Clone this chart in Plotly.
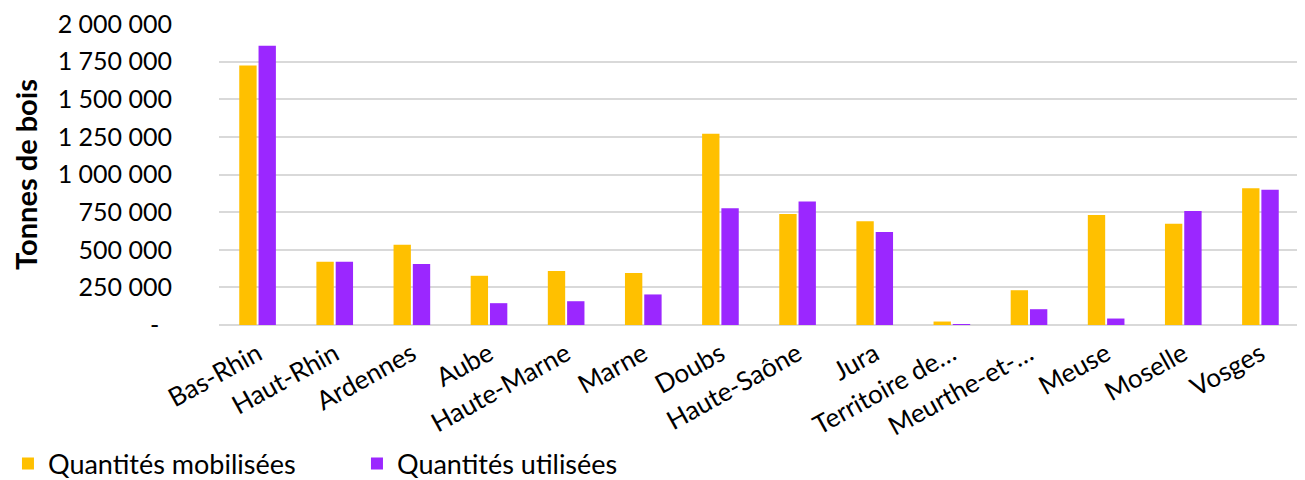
import plotly.graph_objects as go

categories = ["Bas-Rhin", "Haut-Rhin", "Ardennes", "Aube", "Haute-Marne", "Marne", "Doubs",
              "Haute-Saône", "Jura", "Territoire de…", "Meurthe-et-…", "Meuse", "Moselle", "Vosges"]
mobilisees = [1725000, 420000, 533000, 327000, 358000, 345000, 1271000,
              738000, 689000, 23000, 231000, 731000, 673000, 909000]
utilisees = [1856000, 421000, 405000, 145000, 158000, 203000, 776000,
             820000, 618000, 3000, 105000, 43000, 758000, 898000]
tick_vals = [0, 250000, 500000, 750000, 1000000, 1250000, 1500000, 1750000, 2000000]
tick_text = ["-\u00a0\u00a0", "250 000", "500 000", "750 000", "1 000 000", "1 250 000",
             "1 500 000", "1 750 000", "2 000 000"]

FONT = "Lato, 'Open Sans', sans-serif"

fig = go.Figure()
fig.add_trace(go.Bar(x=categories, y=mobilisees, name="Quantités mobilisées",
                     marker=dict(color="#FFC000", line=dict(width=0))))
fig.add_trace(go.Bar(x=categories, y=utilisees, name="Quantités utilisées",
                     marker=dict(color="#9B27FF", line=dict(width=0))))

fig.update_layout(
    width=1297, height=472,
    margin=dict(l=211, r=6, t=16, b=155, autoexpand=False),
    paper_bgcolor="white", plot_bgcolor="white",
    font=dict(family=FONT, size=25, color="#000000"),
    barmode="group", bargap=0.5, bargroupgap=0.1,
    showlegend=True,
    legend=dict(orientation="h", x=-0.1954, xanchor="left", y=-0.462, yanchor="middle",
                font=dict(size=27), itemwidth=30, entrywidthmode="pixels", entrywidth=304,
                traceorder="normal", bgcolor="rgba(0,0,0,0)"),
    xaxis=dict(tickangle=-29, showgrid=False, showline=False, ticks="",
               tickfont=dict(size=26), automargin=False, ticklabelstandoff=8),
    yaxis=dict(range=[0, 2000000], tickvals=tick_vals, ticktext=tick_text,
               showgrid=True, gridcolor="#D9D9D9", gridwidth=1.5,
               zeroline=True, zerolinecolor="#D9D9D9", zerolinewidth=1.5,
               ticks="", ticklabelstandoff=46, tickfont=dict(size=25), automargin=False,
               ticklabeloverflow="allow",
               title=dict(text="<b>Tonnes de bois</b>", font=dict(size=29), standoff=16)),
)

fig.write_html("out.html")
